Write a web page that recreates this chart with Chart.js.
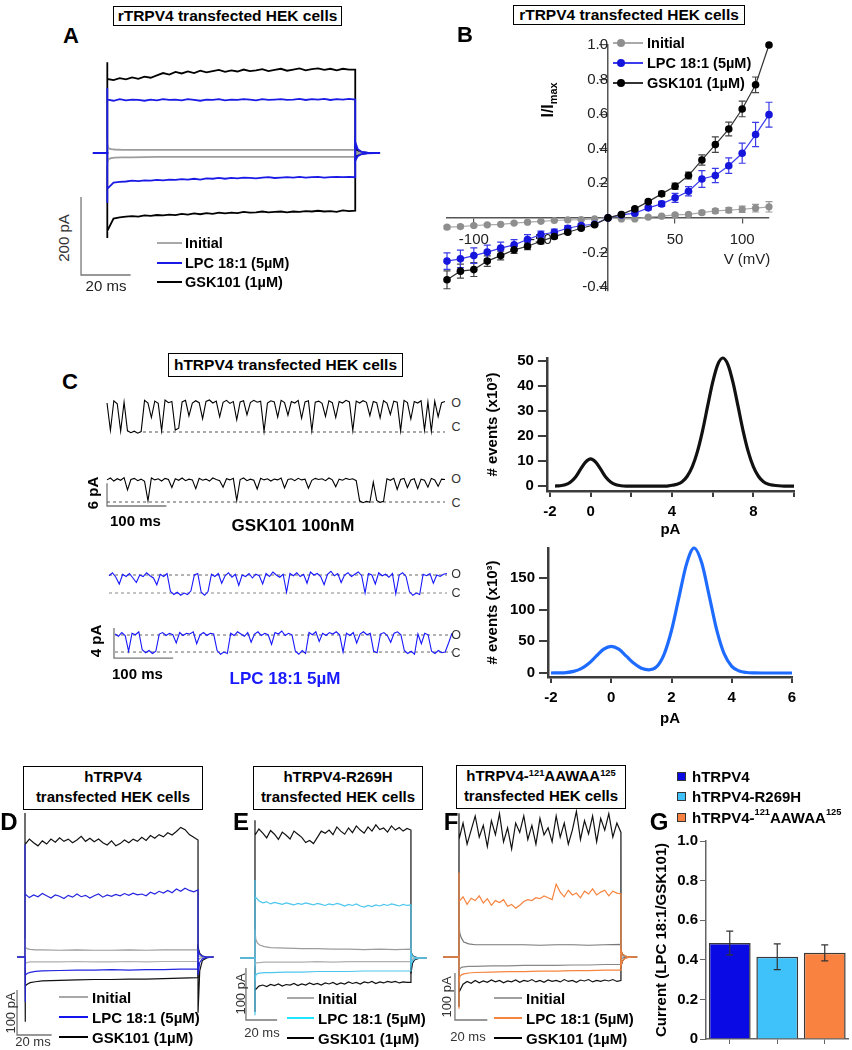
<!DOCTYPE html>
<html lang="en">
<head>
<meta charset="utf-8">
<title>TRPV4 – LPC 18:1 currents</title>
<script src="https://cdn.jsdelivr.net/npm/chart.js@4.4.1/dist/chart.umd.min.js"></script>
<style>
  html, body { margin: 0; padding: 0; background: #fff; }
  body { width: 852px; height: 1050px; position: relative; overflow: hidden;
         font-family: 'Liberation Sans', Arial, sans-serif; color: #000; }
  canvas { position: absolute; }
  .txt { position: absolute; white-space: nowrap; z-index: 2; line-height: 1; }
  .box { position: absolute; border: 1.5px solid #000; box-sizing: border-box; background: #fff;
         text-align: center; font-weight: bold; font-size: 15.5px; z-index: 2; white-space: nowrap; }
  .box.two { font-size: 15px; }
  .letter { position: absolute; font-weight: bold; z-index: 2; line-height: 1; transform: translate(-50%, -50%); }
  sup { font-size: 62%; vertical-align: top; position: relative; top: -2px; }
  sub { font-size: 68%; vertical-align: bottom; position: relative; top: 3px; }
</style>
</head>
<body>
<script>
'use strict';

// ------------------------------------------------------------------
// Data
// ------------------------------------------------------------------

// Panel B: I/V relation, normalised to I max
const B_VOLTS = [-120, -110, -100, -90, -80, -70, -60, -50, -40, -30, -20, -10, 0,
                 10, 20, 30, 40, 50, 60, 70, 80, 90, 100, 110, 120];
const B_INITIAL = [-0.054, -0.05, -0.044, -0.04, -0.037, -0.03, -0.025, -0.02, -0.015, -0.012, -0.01, -0.006, 0,
                   -0.006, -0.006, 0.004, 0.01, 0.017, 0.02, 0.03, 0.04, 0.045, 0.05, 0.056, 0.064];
const B_INITIAL_ERR = [0.008, 0.008, 0.007, 0.007, 0.006, 0.006, 0.005, 0.005, 0.004, 0.004, 0.003, 0.003, 0,
                       0.003, 0.003, 0.004, 0.005, 0.006, 0.008, 0.01, 0.012, 0.015, 0.018, 0.022, 0.03];
const B_LPC = [-0.25, -0.237, -0.218, -0.198, -0.175, -0.156, -0.125, -0.096, -0.083, -0.06, -0.044, -0.037, 0,
               0.017, 0.027, 0.058, 0.081, 0.116, 0.154, 0.225, 0.245, 0.302, 0.374, 0.482, 0.597];
const B_LPC_ERR = [0.048, 0.05, 0.045, 0.04, 0.035, 0.03, 0.028, 0.02, 0.018, 0.015, 0.01, 0.008, 0,
                   0.008, 0.01, 0.012, 0.015, 0.026, 0.027, 0.048, 0.041, 0.045, 0.058, 0.07, 0.072];
const B_GSK = [-0.358, -0.308, -0.299, -0.25, -0.218, -0.185, -0.164, -0.135, -0.108, -0.083, -0.06, -0.04, 0,
               0.02, 0.052, 0.094, 0.139, 0.183, 0.245, 0.335, 0.424, 0.514, 0.63, 0.77, 1.0];
const B_GSK_ERR = [0.052, 0.04, 0.04, 0.03, 0.025, 0.02, 0.02, 0.015, 0.012, 0.01, 0.008, 0.006, 0,
                   0.006, 0.008, 0.01, 0.015, 0.018, 0.02, 0.03, 0.045, 0.04, 0.045, 0.045, 0];

// Panel C: all-point histograms (pA, events x10^3)
const H1_PA = [-1.75, -1.5, -1.25, -1, -0.75, -0.5, -0.25, 0, 0.25, 0.5, 0.75, 1, 1.25, 1.5,
               1.75, 2, 2.25, 2.5, 2.75, 3, 3.25, 3.5, 3.75,
               4, 4.25, 4.5, 4.75, 5, 5.25, 5.5, 5.75, 6, 6.25, 6.5, 6.75, 7, 7.25, 7.5, 7.75,
               8, 8.25, 8.5, 8.75, 9, 9.25, 9.5, 9.75, 10];
const H1_EVENTS = [0, 0.1, 0.5, 1.5, 3.5, 6.6, 9.5, 10.8, 9.5, 6.6, 3.5, 1.5, 0.5, 0.1,
                   0, 0, 0, 0, 0, 0, 0, 0, 0,
                   0.3, 0.7, 1.7, 3.9, 7.7, 13.7, 21.9, 31.7, 41.3, 48.4, 51, 48.4, 41.3, 31.7, 21.9, 13.7,
                   7.7, 3.9, 1.7, 0.7, 0.3, 0.1, 0, 0, 0];
const H2_PA = [-2, -1.75, -1.5, -1.25, -1, -0.75, -0.5, -0.25, 0, 0.25, 0.5, 0.75, 1, 1.25, 1.5, 1.75,
               2, 2.25, 2.5, 2.75, 3, 3.25, 3.5, 3.75, 4, 4.25, 4.5, 4.75, 5, 5.25, 5.5, 5.75, 6];
const H2_EVENTS = [0, 0.2, 0.7, 2.5, 6.8, 15, 26.5, 37.5, 42, 37.5, 26.5, 15.2, 7.5, 5.0, 9.5, 29,
                   67, 120, 172, 197, 174, 122, 68, 30, 10.5, 3, 0.8, 0.2, 0, 0, 0, 0, 0];

// Panel C: single channel records (pA, one sample every SAMPLE_MS)
const SAMPLE_MS = 5.75;
const C1_GSK = [7.6, 0.4, 8.2, 7.4, 0.2, 7.8, 0.3, -0.2, 0.2, -0.3, 0.1,
  8.3, 7.6, 3.8, 8.1, 7.5, 0.3, 8.4, 7.7, 8.0, 0.5,
  1.0, 7.9, 8.3, 4.2, 7.6, 8.2, 7.7, 3.5, 8.0,
  8.4, 7.6, 8.1, 4.0, 7.8, 8.3, 7.5, 8.0, 3.2, 7.9,
  8.2, 4.5, 7.7, 8.3, 7.8, 8.1, 0.2, 7.6, 8.2, 7.9,
  3.9, 8.3, 7.7, 4.4, 8.0, 7.6, 8.3, 3.6, 7.9, 8.2,
  0.3, 7.8, 8.1, 7.5, 4.1, 8.2, 7.7, 3.8, 8.0, 7.6,
  8.3, 7.9, 0.4, 8.1, 7.6, 8.2, 7.8, 4.3, 8.0, 7.7,
  3.7, 8.2, 7.6, 4.6, 8.1, 7.8, 0.3, 8.3, 7.7, 3.4,
  8.0, 7.6, 8.2, 0.5, 7.9, 0.2, 8.1, 4.0, 7.7, 8.0];
const C2_GSK = [5.8, 6.3, 5.5, 6.1, 5.7, 6.4, 3.2, 5.9, 6.2, 5.6,
  6.0, 5.4, 0.3, 6.3, 5.8, 6.1, 5.5, 6.2, 5.9, 3.8,
  6.1, 5.7, 6.3, 5.6, 6.0, 5.8, 3.5, 6.2, 5.7, 6.0,
  5.5, 6.3, 5.9, 5.6, 3.9, 6.1, 5.8, 6.2, 0.4, 5.9,
  6.3, 5.6, 6.0, 5.7, 3.4, 6.2, 5.8, 6.1, 5.5, 6.0,
  5.8, 6.3, 3.7, 5.9, 6.1, 5.6, 6.2, 5.8, 6.0, 3.6,
  5.7, 6.2, 5.9, 6.1, 5.6, 6.3, 5.8, 4.0, 6.0, 5.7,
  6.2, 5.9, 6.1, 5.6, 0.3, -0.2, 0.2, -0.1, 5.2, 0.4,
  -0.1, 0.2, 6.1, 5.7, 6.2, 3.3, 5.9, 6.2, 3.8, 5.8,
  6.1, 3.5, 6.0, 5.7, 3.9, 6.2, 5.8, 4.1, 6.0, 5.9];
const C3_LPC = [2.3, 2.7, 2.1, 1.2, 2.5, 2.2, 2.6, 2.0, 1.4, 2.4,
  2.2, 2.7, 2.3, 2.0, 1.1, 2.5, 2.2, 2.6, 0.2, -0.2,
  0.1, -0.3, 0.0, -0.2, 0.3, 2.4, 2.6, 0.1, -0.3, 0.2,
  2.5, 2.2, 2.6, 1.3, 2.3, 2.7, 2.1, 2.5, 1.0, 2.4,
  2.2, 2.6, 2.0, 2.5, 2.3, 1.2, 2.6, 2.2, 2.8, 2.4,
  2.1, 2.5, 0.1, 2.6, 2.3, 2.7, 2.2, 2.5, 1.3, 2.8,
  2.4, 2.6, 2.2, 1.1, 2.5, 2.9, 2.3, 2.6, 1.4, 2.4,
  2.7, 2.2, 2.5, 2.8, 2.3, 0.0, 2.6, 2.4, 1.2, 2.7,
  2.3, 2.5, 2.1, 2.6, -0.1, 2.4, 2.7, 2.2, 0.2, -0.3,
  0.0, -0.2, 2.5, 2.3, 2.6, 1.3, 2.4, 2.2, 2.5, 2.6];
const C4_LPC = [2.4, 2.1, 2.6, 2.2, 0.1, 2.5, 2.3, 2.7, 0.3, -0.1,
  0.2, -0.2, 0.1, 2.4, 2.6, 2.2, 2.5, 2.3, 1.2, 2.6,
  2.2, 2.5, 2.4, 2.7, 1.1, 2.3, 2.6, 2.2, 2.5, 2.4,
  0.2, -0.3, 0.0, -0.2, 2.5, 2.2, 2.7, 2.4, 2.1, 2.6,
  1.3, 2.4, 2.7, 2.2, 2.5, 2.3, 1.0, 2.6, 2.4, 2.8,
  2.2, 2.5, 2.3, 0.1, -0.3, 0.2, -0.2, 2.6, 2.3, 2.7,
  1.4, 2.5, 2.2, 2.6, 2.4, 2.7, 2.3, 0.0, 2.5, 2.2,
  2.6, 1.2, 2.4, 2.7, 2.3, 2.5, 0.1, -0.1, 2.4, 2.6,
  2.2, 1.3, 2.5, 2.7, 2.3, 0.2, -0.2, 0.1, -0.3, 2.4,
  1.1, 2.5, 2.3, 0.1, -0.2, 0.2, -0.1, 0.0, 1.2, 2.5];
const C_OPEN = [7.9, 5.9, 2.4, 2.27];
const C_TRACE_MS = 569.25;

// Whole-cell records (ms, pA). Fine grid for noisy traces, coarse grid for quiet ones.
const T_FINE = [0, 2.5, 5, 7.5, 10, 12.5, 15, 17.5, 20, 22.5, 25, 27.5, 30, 32.5, 35, 37.5, 40,
                42.5, 45, 47.5, 50, 52.5, 55, 57.5, 60, 62.5, 65, 67.5, 70, 72.5, 75, 77.5, 80,
                82.5, 85, 87.5, 90, 92.5, 95, 97.5, 100];
const T_COARSE = [0, 0.5, 1.5, 3, 6, 10, 20, 30, 40, 50, 60, 70, 80, 90, 100];
const T_TAIL = [100, 101, 102.5, 105, 108];

// Panel A (rTRPV4)
const A_LPC_POS = [137, 134, 138, 135, 137, 136, 134, 137, 135, 138, 136, 137, 135, 138, 136, 134, 137, 136, 138, 135,
                   137, 136, 138, 137, 135, 138, 136, 137, 138, 136, 137, 139, 136, 138, 137, 139, 136, 138, 137, 139, 137];
const A_LPC_NEG = [-92, -76, -74, -73, -71, -72, -70, -71, -69, -70, -68, -69, -67, -68, -66, -68, -65, -66, -64, -66,
                   -64, -65, -63, -64, -65, -63, -62, -64, -63, -62, -63, -61, -63, -62, -61, -63, -62, -61, -62, -61, -62];
const A_INI_POS = [22, 12, 10, 9, 8, 8, 8, 8, 8, 8, 8, 8, 8, 8, 8];
const A_INI_NEG = [-24, -16, -13, -12, -11, -11, -10, -10, -10, -10, -10, -10, -10, -10, -10];
const A_GSK_POS = [190, 187, 192, 189, 194, 190, 196, 193, 199, 205, 201, 208, 204, 209, 205, 211, 207, 210, 213, 208,
                   212, 209, 214, 210, 212, 215, 210, 213, 216, 211, 214, 217, 212, 215, 217, 213, 216, 212, 216, 214, 214];
const A_GSK_NEG = [-200, -168, -165, -163, -162, -163, -160, -161, -159, -160, -158, -159, -156, -158, -155, -157, -154, -156, -153, -155,
                   -153, -154, -151, -153, -152, -150, -152, -151, -150, -152, -150, -151, -149, -150, -148, -150, -149, -151, -147, -149, -148];
const A_ONSET = [167, -128, 22, -24, 233, -218];
const A_TAILS = [[-20, -8, -3, -1, 0], [28, 10, 3, 1, 0], [-4, -2, -1, 0, 0], [4, 2, 1, 0, 0], [-12, -5, -2, 0, 0], [12, 5, 2, 0, 0]];
const A_SCALE = [-10.6, -112.8, 20, 200];

// Panel D (hTRPV4)
const D_LPC_POS = [140, 132, 138, 134, 141, 136, 131, 138, 135, 130, 137, 133, 140, 134, 137, 131, 136, 140, 133, 138,
                   135, 139, 136, 141, 137, 142, 138, 140, 136, 144, 140, 146, 142, 148, 143, 151, 146, 153, 148, 145, 149];
const D_LPC_NEG = [-55, -40, -36, -34, -32, -31, -30, -29, -29, -28, -29, -28, -28, -27, -27];
const D_INI_POS = [38, 22, 18, 17, 16, 16, 15, 16, 15, 15, 16, 15, 16, 16, 16];
const D_INI_NEG = [-24, -14, -12, -11, -11, -11, -11, -10, -11, -11, -10, -11, -10, -10, -10];
const D_GSK_POS = [250, 262, 254, 247, 258, 251, 262, 255, 265, 257, 262, 254, 260, 268, 257, 264, 256, 262, 254, 249,
                   258, 247, 252, 260, 254, 262, 257, 266, 259, 270, 264, 272, 267, 276, 271, 279, 288, 283, 272, 266, 260];
const D_GSK_NEG = [-85, -64, -60, -57, -55, -53, -52, -51, -50, -50, -49, -49, -48, -47, -46];
const D_ONSET = [250, -100, 40, -25, 320, -144];
const D_TAILS = [[-40, -12, -4, -1, 0], [15, 6, 2, 0, 0], [-8, -3, -1, 0, 0], [6, 2, 1, 0, 0], [-124, -30, -8, -2, 0], [22, 8, 2, 0, 0]];
const D_SCALE = [-4.6, -73.3, 20, 100];

// Panel E (hTRPV4-R269H)
const E_LPC_POS = [118, 110, 106, 108, 104, 107, 105, 103, 106, 104, 102, 105, 103, 106, 104, 102, 105, 103, 101, 104,
                   102, 105, 103, 100, 103, 101, 104, 100, 98, 101, 99, 102, 100, 103, 101, 104, 102, 100, 103, 101, 102];
const E_LPC_NEG = [-45, -33, -30, -29, -28, -28, -27, -27, -26, -26, -26, -25, -25, -25, -25];
const E_INI_POS = [55, 36, 29, 25, 22, 20, 19, 18, 18, 17, 17, 16, 17, 16, 17];
const E_INI_NEG = [-14, -10, -9, -9, -8, -8, -8, -8, -7, -8, -7, -7, -7, -7, -7];
const E_GSK_POS = [236, 248, 240, 231, 245, 238, 228, 242, 236, 229, 244, 238, 232, 222, 226, 220, 232, 244, 240, 246,
                   237, 252, 244, 238, 250, 241, 254, 246, 240, 252, 244, 256, 247, 250, 242, 254, 246, 251, 244, 249, 246];
const E_GSK_NEG = [-62, -54, -52, -55, -51, -53, -50, -54, -51, -52, -49, -53, -50, -52, -48, -51, -49, -52, -48, -50,
                   -47, -51, -48, -50, -46, -49, -47, -50, -46, -48, -45, -49, -46, -48, -45, -47, -45, -48, -46, -47, -47];
const E_ONSET = [150, -110, 55, -14, 265, -104];
const E_TAILS = [[-14, -5, -2, 0, 0], [10, 4, 1, 0, 0], [-6, -2, -1, 0, 0], [5, 2, 1, 0, 0], [-30, -10, -3, -1, 0], [12, 5, 2, 0, 0]];
const E_SCALE = [-5.8, -19.2, 20, 100];

// Panel F (hTRPV4-121AAWAA125)
const F_LPC_POS = [118, 128, 112, 125, 120, 130, 115, 124, 110, 120, 116, 122, 108, 112, 104, 110, 118, 122, 120, 126,
                   124, 130, 126, 122, 155, 138, 128, 142, 132, 136, 126, 140, 134, 145, 132, 138, 142, 130, 140, 136, 134];
const F_LPC_NEG = [-58, -42, -38, -36, -34, -33, -32, -31, -31, -30, -30, -29, -29, -28, -28];
const F_INI_POS = [70, 50, 40, 32, 28, 26, 26, 26, 26, 25, 26, 26, 25, 26, 27];
const F_INI_NEG = [-35, -25, -22, -21, -20, -20, -19, -19, -18, -18, -18, -17, -17, -16, -16];
const F_GSK_POS = [250, 285, 240, 270, 300, 255, 280, 235, 290, 260, 305, 245, 275, 230, 285, 265, 300, 250, 280, 240,
                   295, 260, 275, 245, 300, 255, 285, 240, 270, 310, 250, 290, 262, 300, 245, 295, 270, 305, 255, 285, 265];
const F_GSK_NEG = [-75, -58, -52, -56, -50, -55, -51, -54, -49, -53, -50, -55, -51, -53, -49, -54, -50, -52, -48, -53,
                   -50, -54, -49, -52, -50, -53, -48, -52, -50, -54, -49, -51, -48, -53, -50, -52, -49, -51, -48, -52, -50];
const F_ONSET = [180, -110, 70, -35, 306, -106];
const F_TAILS = [[-18, -8, -3, -1, 0], [14, 6, 2, 0, 0], [-6, -2, -1, 0, 0], [5, 2, 1, 0, 0], [-20, -8, -2, 0, 0], [14, 6, 2, 0, 0]];
const F_SCALE = [-2.5, -34, 20, 100];

// Panel G: LPC / GSK101 current ratio
const G_GROUPS = ['hTRPV4', 'hTRPV4-R269H', 'hTRPV4-121AAWAA125'];
const G_RATIO = [0.485, 0.415, 0.435];
const G_ERR = [0.06, 0.065, 0.04];

// ------------------------------------------------------------------
// Colours and helpers
// ------------------------------------------------------------------

const FONT = "'Liberation Sans', Arial, sans-serif";
const GRAY = '#9c9c9c';
const BLUE = '#1a1ae6';
const CYAN = '#4cc6ee';
const ORANGE = '#f6843f';
const BAR_COLORS = ['#0a0ae4', '#3fc2fa', '#fa8240'];

Chart.defaults.font.family = FONT;
Chart.defaults.color = '#000';
Chart.defaults.animation = false;

function addCanvas(box) {
  const c = document.createElement('canvas');
  c.width = box.w;
  c.height = box.h;
  c.style.left = box.x + 'px';
  c.style.top = box.y + 'px';
  document.body.appendChild(c);
  return c;
}

function addText(html, x, y, o = {}) {
  const d = document.createElement('div');
  d.className = 'txt';
  d.innerHTML = html;
  d.style.left = x + 'px';
  d.style.top = y + 'px';
  d.style.fontSize = (o.size || 14) + 'px';
  d.style.fontWeight = o.weight || 'bold';
  d.style.color = o.color || '#000';
  const tx = o.align === 'left' ? '0' : '-50%';
  d.style.transform = `translate(${tx}, -50%)` + (o.rotate ? ' rotate(-90deg)' : '');
  document.body.appendChild(d);
}

function addBox(html, x, y, w, h, lineHeight) {
  const d = document.createElement('div');
  d.className = html.includes('<br>') ? 'box two' : 'box';
  d.innerHTML = html;
  d.style.cssText += `left:${x}px;top:${y}px;width:${w}px;height:${h}px;line-height:${lineHeight}px;`;
  document.body.appendChild(d);
}

function addLetter(ch, x, y, size) {
  const d = document.createElement('div');
  d.className = 'letter';
  d.textContent = ch;
  d.style.cssText += `left:${x}px;top:${y}px;font-size:${size}px;`;
  document.body.appendChild(d);
}

function addSwatch(x1, x2, y, color, h) {
  const d = document.createElement('div');
  d.style.cssText = `position:absolute;z-index:2;left:${x1}px;top:${y - h / 2}px;` +
                    `width:${x2 - x1}px;height:${h}px;background:${color};`;
  document.body.appendChild(d);
}

function addDot(cx, cy, r, color) {
  const d = document.createElement('div');
  d.style.cssText = `position:absolute;z-index:3;left:${cx - r}px;top:${cy - r}px;` +
                    `width:${2 * r}px;height:${2 * r}px;border-radius:50%;background:${color};`;
  document.body.appendChild(d);
}

function addSquare(x, y, size, color) {
  const d = document.createElement('div');
  d.style.cssText = `position:absolute;z-index:2;left:${x}px;top:${y - size / 2}px;box-sizing:border-box;` +
                    `width:${size}px;height:${size}px;background:${color};border:1px solid #333;`;
  document.body.appendChild(d);
}

// Error bars drawn from the dataset's own errors through its y scale
function drawErrorBars(chart, layer) {
  const ctx = chart.ctx;
  chart.data.datasets.forEach((ds, i) => {
    if (!ds.errors || ds.errorLayer !== layer) return;
    const meta = chart.getDatasetMeta(i);
    const yScale = chart.scales[meta.yAxisID];
    ctx.save();
    ctx.strokeStyle = ds.errorColor;
    ctx.lineWidth = ds.errorWidth;
    meta.data.forEach((el, j) => {
      const err = ds.errors[j];
      if (!err) return;
      const raw = ds.data[j];
      const v = typeof raw === 'object' ? raw.y : raw;
      const yTop = yScale.getPixelForValue(v + err);
      const yBot = yScale.getPixelForValue(v - err);
      const half = ds.errorCap / 2;
      ctx.beginPath();
      ctx.moveTo(el.x, yTop); ctx.lineTo(el.x, yBot);
      ctx.moveTo(el.x - half, yTop); ctx.lineTo(el.x + half, yTop);
      ctx.moveTo(el.x - half, yBot); ctx.lineTo(el.x + half, yBot);
      ctx.stroke();
    });
    ctx.restore();
  });
}

const errorBarPlugin = {
  id: 'errorBars',
  beforeDatasetsDraw(chart) { drawErrorBars(chart, 'under'); },
  afterDatasetsDraw(chart) { drawErrorBars(chart, 'over'); },
};

function lineSet(data, color, width, dash) {
  return { data, borderColor: color, borderWidth: width, borderDash: dash || [],
           fill: false, pointRadius: 0, tension: 0 };
}

// Whole-cell step record: baseline, capacitive onset, step, tail, baseline
function stepTrace(times, values, onset, tail, pre, post) {
  const pts = [{ x: pre, y: 0 }, { x: 0, y: 0 }, { x: 0, y: onset }];
  times.forEach((t, k) => pts.push({ x: t, y: values[k] }));
  T_TAIL.forEach((t, k) => pts.push({ x: t, y: tail[k] }));
  pts.push({ x: post, y: 0 });
  return pts;
}

function scaleBar(sb) {
  const [t0, top, ms, amp] = sb;
  return [{ x: t0, y: top }, { x: t0, y: top - amp }, { x: t0 + ms, y: top - amp }];
}

function traceChart(box, xr, yr, datasets) {
  return new Chart(addCanvas(box), {
    type: 'line',
    data: { datasets },
    options: {
      responsive: false,
      events: [],
      layout: { padding: 0 },
      plugins: { legend: { display: false }, tooltip: { enabled: false } },
      scales: {
        x: { type: 'linear', display: false, min: xr[0], max: xr[1] },
        y: { type: 'linear', display: false, min: yr[0], max: yr[1] },
      },
    },
  });
}

// Six traces per whole-cell panel: LPC+, LPC-, Initial+, Initial-, GSK+, GSK-
function wholeCellPanel(cfg) {
  const sets = cfg.traces.map(([times, values, color], k) =>
    lineSet(stepTrace(times, values, cfg.onset[k], cfg.tails[k], cfg.pre, cfg.post), color, cfg.lw));
  sets.push(lineSet(scaleBar(cfg.scale), '#777', 1.3));
  traceChart(cfg.box, cfg.xr, cfg.yr, sets);
}

function legendBlock(x1, x2, xt, rows, colors, size) {
  const names = ['Initial', 'LPC 18:1 (5µM)', 'GSK101 (1µM)'];
  names.forEach((n, k) => {
    addSwatch(x1, x2, rows[k], colors[k], 2.5);
    addText(n, xt, rows[k], { align: 'left', size });
  });
}

// ------------------------------------------------------------------
// Panel A
// ------------------------------------------------------------------
wholeCellPanel({
  box: { x: 75, y: 55, w: 310, h: 225 }, xr: [-13.03, 112.0], yr: [-325.6, 251.3],
  pre: -5.8, post: 110, lw: 1.8,
  traces: [[T_FINE, A_LPC_POS, BLUE], [T_FINE, A_LPC_NEG, BLUE],
           [T_COARSE, A_INI_POS, GRAY], [T_COARSE, A_INI_NEG, GRAY],
           [T_FINE, A_GSK_POS, '#000'], [T_FINE, A_GSK_NEG, '#000']],
  onset: A_ONSET, tails: A_TAILS, scale: A_SCALE,
});
addBox('rTRPV4 transfected HEK cells', 113, 6, 229, 20, 17);
addLetter('A', 71, 36, 22);
addText('200 pA', 63, 238, { rotate: true, weight: 'normal', size: 15, color: '#333' });
addText('20 ms', 106, 285, { weight: 'normal', size: 15, color: '#222' });
legendBlock(157, 182, 185, [243, 263, 282], ['#a8a8a8', BLUE, '#000'], 14.5);

// ------------------------------------------------------------------
// Panel B: I/V curves
// ------------------------------------------------------------------
function ivSet(values, errs, line, marker, errColor, r) {
  return {
    data: B_VOLTS.map((v, k) => ({ x: v, y: values[k] })),
    borderColor: line, borderWidth: 1.2, backgroundColor: marker,
    pointBackgroundColor: marker, pointBorderColor: marker, pointRadius: r, pointBorderWidth: 0,
    tension: 0, clip: false,
    errors: errs, errorLayer: 'under', errorColor: errColor, errorWidth: 1.2, errorCap: 7,
  };
}

new Chart(addCanvas({ x: 425, y: 20, w: 365, h: 290 }), {
  type: 'line',
  data: {
    datasets: [
      ivSet(B_GSK, B_GSK_ERR, '#333', '#000', '#444', 3.8),
      ivSet(B_LPC, B_LPC_ERR, '#3c3cee', '#1515dc', '#3a3ae8', 3.8),
      ivSet(B_INITIAL, B_INITIAL_ERR, '#aaa', '#8e8e8e', '#999', 3.6),
    ],
  },
  options: {
    responsive: false,
    events: [],
    layout: { padding: { left: 22, right: 21, top: 25, bottom: 19.5 } },
    plugins: { legend: { display: false }, tooltip: { enabled: false } },
    scales: {
      x: {
        type: 'linear', min: -120, max: 120, position: { y: 0 },
        border: { display: true, color: '#555', width: 1.5 },
        grid: { display: true, drawOnChartArea: false, drawTicks: true, tickLength: 5, color: '#555', lineWidth: 1.2 },
        ticks: { stepSize: 50, includeBounds: false, padding: 8, color: '#222', font: { size: 15 },
                 callback: v => (v === 0 ? '' : v) },
      },
      y: {
        type: 'linear', min: -0.42, max: 1.0, position: { x: 0 },
        border: { display: true, color: '#555', width: 1.5 },
        grid: { display: true, drawOnChartArea: false, drawTicks: true, tickLength: 8, color: '#555', lineWidth: 1.2 },
        ticks: { stepSize: 0.2, includeBounds: false, padding: 2, color: '#222', font: { size: 15 },
                 callback: v => (Math.abs(v) < 1e-9 ? '' : v.toFixed(1)) },
      },
    },
  },
  plugins: [errorBarPlugin],
});
addBox('rTRPV4 transfected HEK cells', 513, 5, 232, 20, 17);
addLetter('B', 465, 35, 22);
addText('I/I<sub>max</sub>', 548, 100, { rotate: true, size: 16 });
addText('V (mV)', 747, 258, { weight: 'normal', size: 15, color: '#222' });
[['Initial', '#aaa', '#8e8e8e', 43], ['LPC 18:1 (5µM)', '#3c3cee', '#1515dc', 63],
 ['GSK101 (1µM)', '#333', '#000', 83]].forEach(([n, line, dot, y]) => {
  addSwatch(613, 643, y, line, 1.4);
  addDot(621, y, 4.2, dot);
  addText(n, 647, y, { align: 'left', size: 14.5 });
});

// ------------------------------------------------------------------
// Panel C: single channel records and histograms
// ------------------------------------------------------------------
function channelSet(values, color) {
  return lineSet(values.map((v, i) => ({ x: i * SAMPLE_MS, y: v })), color, 1.1);
}
const DASH = [3, 3];

traceChart({ x: 100, y: 390, w: 350, h: 50 }, [-11.8, 577.7], [-2.1, 11.02], [
  channelSet(C1_GSK, '#000'),
  lineSet([{ x: 60.6, y: 0 }, { x: C_TRACE_MS, y: 0 }], '#555', 1, DASH),
]);
traceChart({ x: 100, y: 460, w: 350, h: 50 }, [-11.8, 577.7], [-2.1, 11.02], [
  channelSet(C2_GSK, '#000'),
  lineSet([{ x: 0, y: 0 }, { x: C_TRACE_MS, y: 0 }], '#555', 1, DASH),
  lineSet(scaleBar([0, 4.95, 100, 6]), '#777', 1.3),
]);
traceChart({ x: 100, y: 560, w: 350, h: 45 }, [-15.2, 574.3], [-1.6, 4.4], [
  channelSet(C3_LPC, '#1717ff'),
  lineSet([{ x: 0, y: C_OPEN[2] }, { x: C_TRACE_MS, y: C_OPEN[2] }], '#666', 1, DASH),
  lineSet([{ x: 0, y: 0 }, { x: C_TRACE_MS, y: 0 }], '#888', 1, DASH),
]);
traceChart({ x: 100, y: 620, w: 360, h: 45 }, [-25.3, 582.8], [-1.73, 4.27], [
  channelSet(C4_LPC, '#1717ff'),
  lineSet([{ x: 0, y: C_OPEN[3] }, { x: C_TRACE_MS, y: C_OPEN[3] }], '#666', 1, DASH),
  lineSet([{ x: 0, y: 0 }, { x: C_TRACE_MS, y: 0 }], '#666', 1, DASH),
  lineSet(scaleBar([-1.7, 3.2, 100, 4]), '#777', 1.3),
]);

addBox('hTRPV4 transfected HEK cells', 168, 353, 235, 24, 21);
addLetter('C', 70, 382, 22);
[[403, 'O'], [427, 'C'], [479, 'O'], [503, 'C'], [574, 'O'], [593, 'C'], [635, 'O'], [653, 'C']]
  .forEach(([y, s]) => addText(s, 456, y, { weight: 'normal', size: 12.5, color: '#333' }));
addText('6 pA', 92, 493, { rotate: true, size: 15 });
addText('100 ms', 110, 520, { align: 'left', size: 15 });
addText('GSK101 100nM', 293, 525, { size: 17 });
addText('4 pA', 95, 641, { rotate: true, size: 15 });
addText('100 ms', 112, 673, { align: 'left', size: 15 });
addText('LPC 18:1 5µM', 285, 678, { size: 17, color: '#1a1aff' });

function histChart(box, pad, yWidth, xHeight, xs, ys, color, xr, yr, yStep, xCallback, titleBottom) {
  const axisColor = '#3c3c3c';
  new Chart(addCanvas(box), {
    type: 'line',
    data: { datasets: [{ data: xs.map((x, k) => ({ x, y: ys[k] })), borderColor: color, borderWidth: 3.2,
                         pointRadius: 0, fill: false, cubicInterpolationMode: 'monotone', clip: false }] },
    options: {
      responsive: false,
      events: [],
      layout: { padding: pad },
      plugins: { legend: { display: false }, tooltip: { enabled: false } },
      scales: {
        x: {
          type: 'linear', min: xr[0], max: xr[1],
          afterFit: s => { s.height = xHeight; },
          border: { display: true, color: axisColor, width: 2.5 },
          grid: { display: true, drawOnChartArea: false, tickLength: 6, color: axisColor, lineWidth: 2 },
          ticks: { stepSize: 2, includeBounds: false, padding: 6, color: '#000',
                   font: { size: 15, weight: 'bold' }, callback: xCallback },
          title: { display: true, text: 'pA', font: { size: 15, weight: 'bold' }, color: '#000',
                   padding: { top: 0, bottom: titleBottom } },
        },
        y: {
          type: 'linear', min: yr[0], max: yr[1],
          afterFit: s => { s.width = yWidth; },
          border: { display: true, color: axisColor, width: 2.5 },
          grid: { display: true, drawOnChartArea: false, tickLength: 9, color: axisColor, lineWidth: 2 },
          ticks: { stepSize: yStep, includeBounds: false, padding: 4, color: '#000',
                   font: { size: 15, weight: 'bold' } },
          title: { display: true, text: '# events (x10³)', font: { size: 15, weight: 'bold' }, color: '#000',
                   padding: { top: 14, bottom: 0 } },
        },
      },
    },
  });
}

histChart({ x: 470, y: 345, w: 340, h: 200 }, { left: 0, top: 12.5, right: 16, bottom: 0 }, 76.9, 54,
          H1_PA, H1_EVENTS, '#111', [-2.15, 10], [-1.98, 51], 10,
          v => ([2, 6, 10].includes(v) ? '' : v), 6);
histChart({ x: 470, y: 535, w: 340, h: 195 }, { left: 0, top: 13, right: 18, bottom: 0 }, 78, 53,
          H2_PA, H2_EVENTS, '#1e6cff', [-2.1, 6], [-6.3, 197], 50,
          v => v, 2);

// ------------------------------------------------------------------
// Panels D, E, F
// ------------------------------------------------------------------
wholeCellPanel({
  box: { x: 5, y: 800, w: 215, h: 240 }, xr: [-11.56, 112.7], yr: [-184.4, 348.9],
  pre: -4.6, post: 109, lw: 1.2,
  traces: [[T_FINE, D_LPC_POS, '#2424e0'], [T_COARSE, D_LPC_NEG, '#2424e0'],
           [T_COARSE, D_INI_POS, GRAY], [T_COARSE, D_INI_NEG, '#b0b0b0'],
           [T_FINE, D_GSK_POS, '#111'], [T_COARSE, D_GSK_NEG, '#111']],
  onset: D_ONSET, tails: D_TAILS, scale: D_SCALE,
});
addBox('hTRPV4<br>transfected HEK cells', 23, 766, 180, 44, 19.5);
addLetter('D', 9, 822, 24);
addText('100 pA', 10, 1013, { rotate: true, weight: 'normal', size: 13, color: '#333' });
addText('20 ms', 33, 1041, { weight: 'normal', size: 13, color: '#333' });
legendBlock(59, 88, 92, [997, 1017, 1037], ['#a8a8a8', '#1515ee', '#000'], 15);

wholeCellPanel({
  box: { x: 232, y: 800, w: 200, h: 240 }, xr: [-14.74, 113.5], yr: [-157.7, 303.8],
  pre: -9.6, post: 110, lw: 1.2,
  traces: [[T_FINE, E_LPC_POS, CYAN], [T_COARSE, E_LPC_NEG, CYAN],
           [T_COARSE, E_INI_POS, GRAY], [T_COARSE, E_INI_NEG, '#b0b0b0'],
           [T_FINE, E_GSK_POS, '#111'], [T_FINE, E_GSK_NEG, '#111']],
  onset: E_ONSET, tails: E_TAILS, scale: E_SCALE,
});
addBox('hTRPV4-R269H<br>transfected HEK cells', 253, 766, 170, 44, 19.5);
addLetter('E', 241, 822, 24);
addText('100 pA', 240, 994, { rotate: true, weight: 'normal', size: 13, color: '#333' });
addText('20 ms', 262, 1032, { weight: 'normal', size: 13, color: '#333' });
legendBlock(287, 314, 318, [998, 1018, 1038], ['#a8a8a8', '#22e4ff', '#000'], 15);

wholeCellPanel({
  box: { x: 436, y: 800, w: 206, h: 240 }, xr: [-14.2, 113], yr: [-176.6, 334],
  pre: -9.9, post: 110, lw: 1.2,
  traces: [[T_FINE, F_LPC_POS, ORANGE], [T_COARSE, F_LPC_NEG, ORANGE],
           [T_COARSE, F_INI_POS, '#777'], [T_COARSE, F_INI_NEG, '#888'],
           [T_FINE, F_GSK_POS, '#111'], [T_FINE, F_GSK_NEG, '#111']],
  onset: F_ONSET, tails: F_TAILS, scale: F_SCALE,
});
addBox('hTRPV4-<sup>121</sup>AAWAA<sup>125</sup><br>transfected HEK cells', 456, 765, 170, 44, 19.5);
addLetter('F', 451, 822, 24);
addText('100 pA', 446, 997, { rotate: true, weight: 'normal', size: 13, color: '#333' });
addText('20 ms', 468, 1036, { weight: 'normal', size: 13, color: '#333' });
legendBlock(494, 522, 526, [998, 1018, 1038], ['#a0a0a0', ORANGE, '#000'], 15);

// ------------------------------------------------------------------
// Panel G: bar chart
// ------------------------------------------------------------------
new Chart(addCanvas({ x: 640, y: 830, w: 212, h: 220 }), {
  type: 'bar',
  data: {
    labels: G_GROUPS,
    datasets: [{
      data: G_RATIO, backgroundColor: BAR_COLORS, borderColor: '#3a3a3a', borderWidth: 1.5,
      categoryPercentage: 1, barPercentage: 0.88,
      errors: G_ERR, errorLayer: 'over', errorColor: '#333', errorWidth: 1.2, errorCap: 7,
    }],
  },
  options: {
    responsive: false,
    events: [],
    layout: { padding: { left: 0, top: 10, right: 3.5, bottom: 0 } },
    plugins: { legend: { display: false }, tooltip: { enabled: false } },
    scales: {
      x: {
        afterFit: s => { s.height = 10; },
        border: { display: true, color: '#666', width: 1.5 },
        grid: { display: true, drawOnChartArea: false, offset: false, tickLength: 5, color: '#666' },
        ticks: { display: false },
      },
      y: {
        min: 0, max: 1,
        afterFit: s => { s.width = 66; },
        border: { display: true, color: '#666', width: 1.5 },
        grid: { display: true, drawOnChartArea: false, tickLength: 6, color: '#666' },
        ticks: { stepSize: 0.2, padding: 2, color: '#000', font: { size: 15, weight: 'bold' },
                 callback: v => (v === 0 ? '0' : v.toFixed(1)) },
        title: { display: true, text: 'Current (LPC 18:1/GSK101)', color: '#000',
                 font: { size: 15, weight: 'bold' }, padding: { top: 13, bottom: 0 } },
      },
    },
  },
  plugins: [errorBarPlugin],
});
addLetter('G', 659, 822, 24);
['hTRPV4', 'hTRPV4-R269H', 'hTRPV4-<sup>121</sup>AAWAA<sup>125</sup>'].forEach((n, k) => {
  const y = [776, 796, 817][k];
  addSquare(677, y, 9, BAR_COLORS[k]);
  addText(n, 692, y, { align: 'left', size: 15 });
});
</script>
</body>
</html>
